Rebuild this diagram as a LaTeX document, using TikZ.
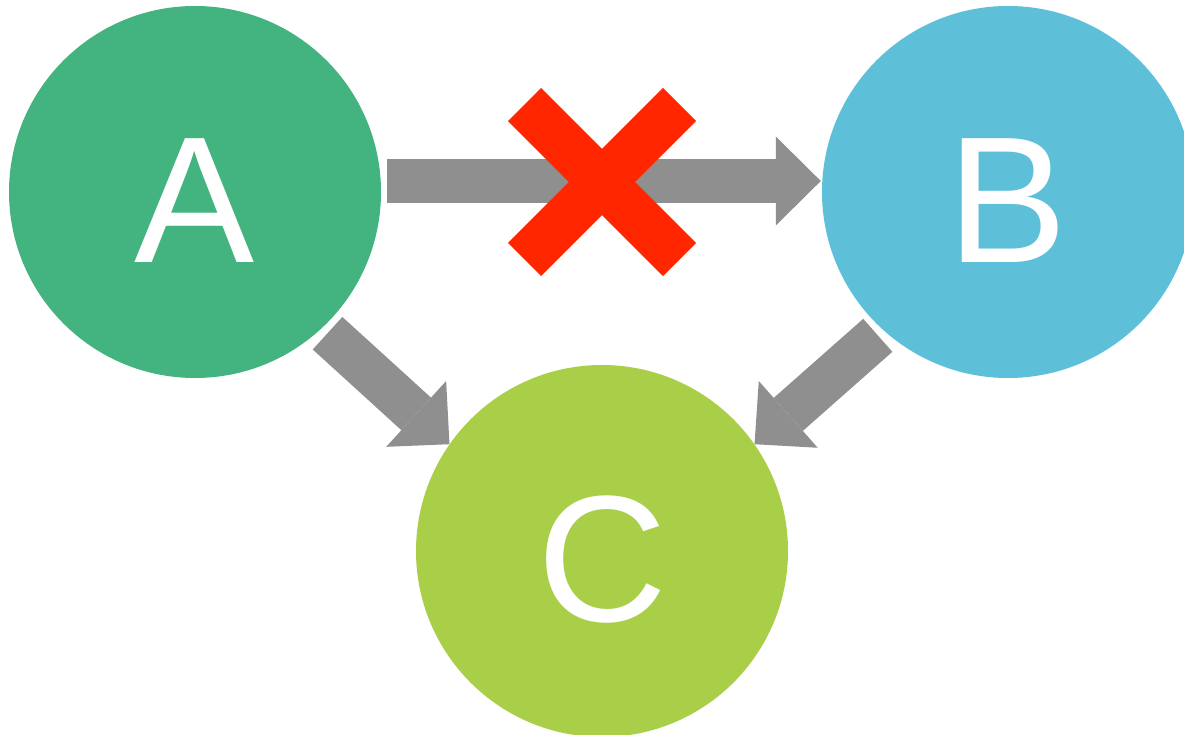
\documentclass[tikz,border=0pt]{standalone}
\usepackage{fontspec}
\setmainfont{Liberation Sans}
\usetikzlibrary{arrows.meta,calc}
\definecolor{cA}{RGB}{67,179,128}
\definecolor{cB}{RGB}{94,191,217}
\definecolor{cC}{RGB}{169,207,72}
\definecolor{cgray}{RGB}{143,143,143}
\definecolor{cred}{RGB}{255,38,0}
\tikzset{
  circ/.style={circle, draw=none, minimum size=372pt, inner sep=0pt, text=white,
    font=\fontsize{180}{180}\selectfont, text height=141pt, text depth=0pt},
  bigarrow/.style={draw=cgray, line width=44pt,
    -{Triangle[length=45pt, width=89pt, line width=0pt]}},
  xline/.style={draw=cred, line width=46.7pt, line cap=butt}
}
\begin{document}
\begin{tikzpicture}[x=1pt, y=-1pt]
\useasboundingbox (0,0) rectangle (1184,735);
\clip (0,0) rectangle (1184,735);
\fill[white] (0,0) rectangle (1184,735);
\node[circ, fill=cA] (A) at (195,192) {A};
\node[circ, fill=cB] (B) at (1008,192) {B};
\node[circ, fill=cC] (C) at (602,551) {C};
\draw[bigarrow, shorten <=6pt, shorten >=1pt] ([yshift=11pt]A.east) -- ([yshift=11pt]B.west);
\draw[bigarrow, shorten <=7.5pt] (A.-47.5) -- (C.145);
\draw[bigarrow, shorten <=7.5pt] (B.-132.5) -- (C.35);
\coordinate (X) at (602,182);
\draw[xline] ([shift={(-77.5,-77.5)}]X) -- ([shift={(77.5,77.5)}]X);
\draw[xline] ([shift={(-77.5,77.5)}]X) -- ([shift={(77.5,-77.5)}]X);
\end{tikzpicture}
\end{document}
